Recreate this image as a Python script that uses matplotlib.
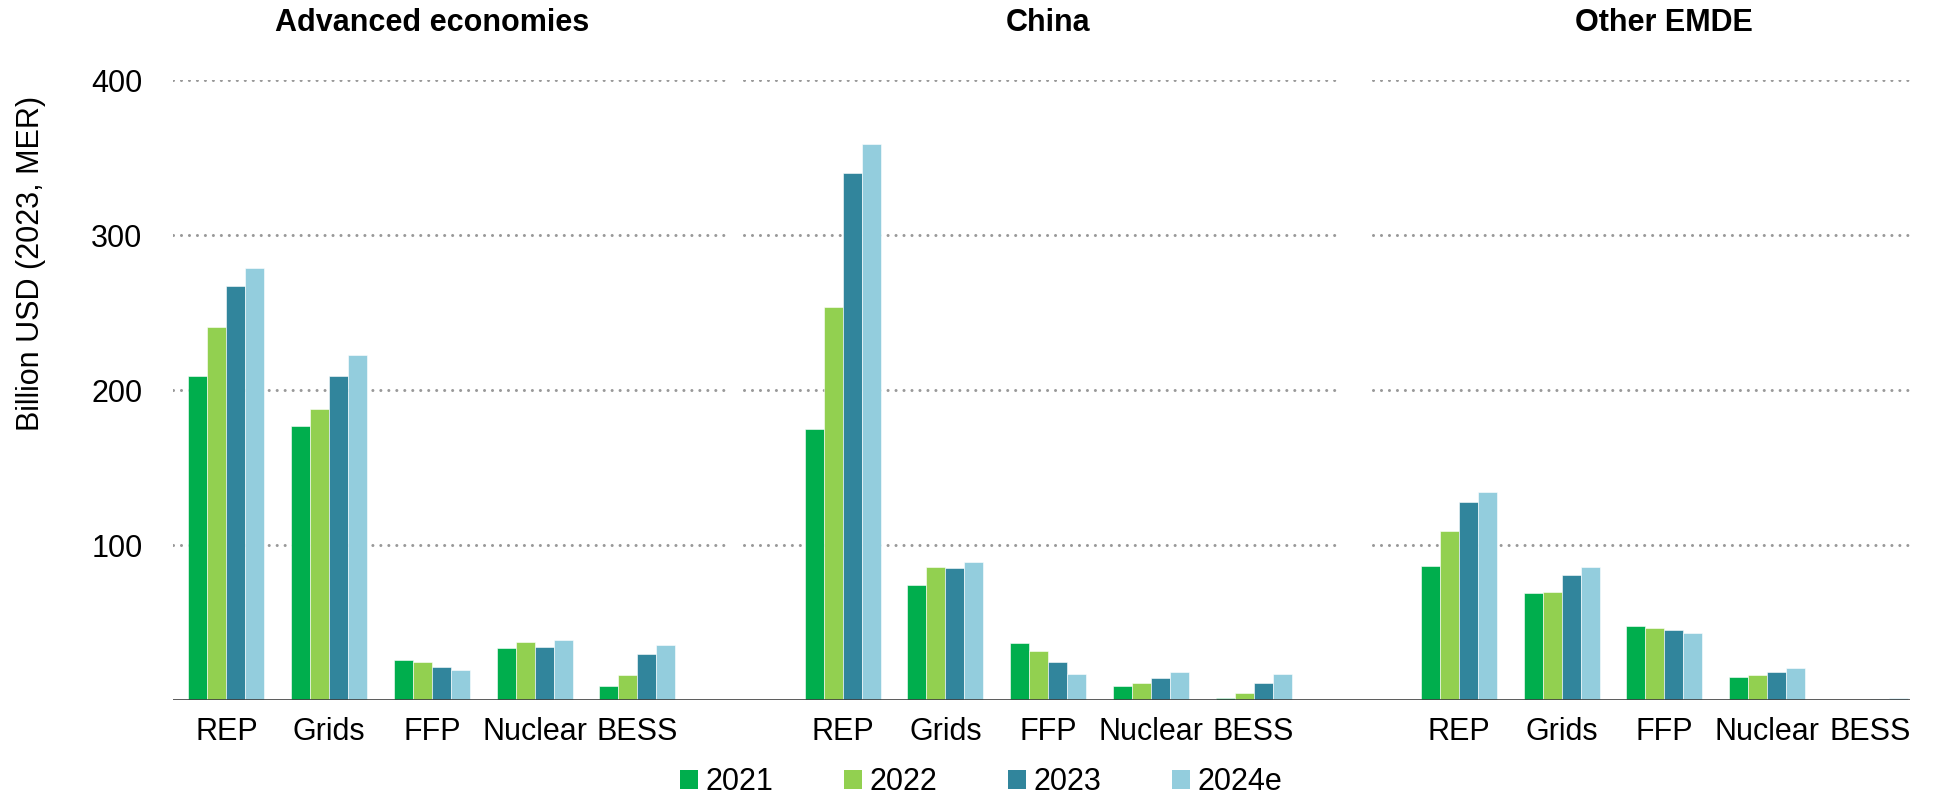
import matplotlib
matplotlib.use('Agg')
import matplotlib.pyplot as plt
import matplotlib.transforms as mtransforms
from matplotlib.patches import Patch
import numpy as np

plt.rcParams['font.family'] = ['Liberation Sans', 'DejaVu Sans']

# data (billion USD, 2023 MER)
categories = ['REP', 'Grids', 'FFP', 'Nuclear', 'BESS']
regions = ['Advanced economies', 'China', 'Other EMDE']
years = ['2021', '2022', '2023', '2024e']
colors = ['#00AE4D', '#92D050', '#31859C', '#93CDDD']

# rows = years, cols = categories
advanced = [
    [209, 177, 26, 33.5, 9],
    [241, 188, 24.5, 37.5, 16],
    [267, 209, 21.5, 34, 29.5],
    [279, 223, 19.5, 39, 35.5],
]
china = [
    [175, 74, 36.5, 9, 1.3],
    [254, 86, 31.5, 11, 4.3],
    [340.5, 85, 24.3, 14, 11],
    [359, 89, 17, 18, 16.5],
]
other_emde = [
    [86.5, 69, 48, 15, 0.2],
    [109, 70, 46.7, 16, 0.3],
    [128, 80.5, 45.4, 18, 0.6],
    [134, 86, 43.4, 20.5, 1.5],
]
yticks = [100, 200, 300, 400]

fig = plt.figure(figsize=(19.35, 7.98), dpi=100)
ax = fig.add_axes([0.0894, 0.1228, 0.8976, 0.7764])

width = 0.185
panel_gap = 6
grid_segments = [(-0.52, 4.84), (5.04, 10.83), (11.16, 16.39)]
title_tr = mtransforms.blended_transform_factory(ax.transData, fig.transFigure)

xt, xl = [], []
for r, data in enumerate([advanced, china, other_emde]):
    base = np.arange(len(categories)) + r * panel_gap
    for i, yr in enumerate(years):
        ax.bar(base + (i - 1.5) * width, data[i], width, color=colors[i],
               edgecolor='white', linewidth=0.4, zorder=3)
    xt += list(base)
    xl += categories
    ax.text(base.mean(), 0.971, regions[r], transform=title_tr,
            ha='center', va='center', fontsize=22, fontweight='bold')

# dotted gridlines, broken between panels
for y in yticks:
    for x0, x1 in grid_segments:
        ax.plot([x0, x1], [y, y], color='#999999', lw=2.2,
                linestyle=(0, (0.01, 2.6)), dash_capstyle='round', zorder=1)
ax.axhline(0, color='#404040', lw=1.2, zorder=4)

ax.set_xlim(-0.52, 16.39)
ax.set_ylim(0, 400)
ax.set_yticks(yticks)
ax.set_yticklabels([str(v) for v in yticks], fontsize=22)
ax.set_xticks(xt)
ax.set_xticklabels(xl, fontsize=22)
ax.tick_params(axis='y', length=0, pad=22)
ax.tick_params(axis='x', length=0, pad=12)
for s in ax.spines.values():
    s.set_visible(False)

fig.text(0.016, 0.67, 'Billion USD (2023, MER)', rotation=90, fontsize=22,
         ha='center', va='center')

handles = [Patch(facecolor=c, edgecolor='none') for c in colors]
fig.legend(handles, years, loc='center', bbox_to_anchor=(0.507, 0.02),
           ncol=4, frameon=False, fontsize=22, handlelength=0.6,
           handleheight=0.6, handletextpad=0.25, columnspacing=2.3)

fig.savefig('out.png', dpi=100)
